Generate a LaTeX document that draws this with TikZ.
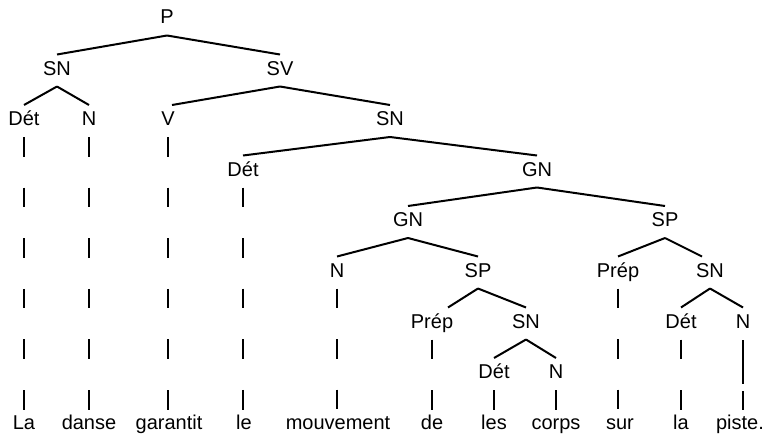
\documentclass[tikz,border=0pt]{standalone}
\usepackage{fontspec}
\setmainfont{Liberation Sans}
\usetikzlibrary{calc}
\tikzset{
  lab/.style={anchor=base, inner sep=0pt, font=\fontsize{20}{22}\selectfont},
  br/.style={line width=2pt},
  colbar/.style={line width=2pt, dash pattern=on 19.6pt off 31pt}
}
\newcommand\tbranch[3][0]{\draw[br] ($(#2.base)+(0,11.5)$) -- ($(#3.base)+(#1,-20.5)$);}
\newcommand\tcol[2]{\draw[colbar] ($(#1.base)+(0,11.5)$) -- ($(#1.base |- #2.base)+(0,-19)$);}
\begin{document}
\begin{tikzpicture}[x=1pt,y=-1pt]
\useasboundingbox (0,0) rectangle (773,436);
% nodes
\node[lab] (P) at (167,24) {P};
\node[lab] (SN1) at (57,75) {SN};
\node[lab] (SV) at (280,75) {SV};
\node[lab] (Det1) at (24,125.5) {Dét};
\node[lab] (N1) at (89,125.5) {N};
\node[lab] (V) at (168,125.5) {V};
\node[lab] (SN2) at (390,125.5) {SN};
\node[lab] (Det2) at (243,176) {Dét};
\node[lab] (GN1) at (537,176) {GN};
\node[lab] (GN2) at (408,226.5) {GN};
\node[lab] (SP1) at (665,226.5) {SP};
\node[lab] (N2) at (337,277) {N};
\node[lab] (SP2) at (478,277) {SP};
\node[lab] (Prep1) at (618,277) {Prép};
\node[lab] (SN3) at (710,277) {SN};
\node[lab] (Prep2) at (432,328) {Prép};
\node[lab] (SN4) at (526,328) {SN};
\node[lab] (Det3) at (681,328) {Dét};
\node[lab] (N3) at (743,328) {N};
\node[lab] (Det4) at (494,378.5) {Dét};
\node[lab] (N4) at (556,378.5) {N};
% words
\node[lab] (w1) at (24,429) {La};
\node[lab] (w2) at (89,429) {danse};
\node[lab] (w3) at (169,429) {garantit};
\node[lab] (w4) at (244,429) {le};
\node[lab] (w5) at (338,429) {mouvement};
\node[lab] (w6) at (432,429) {de};
\node[lab] (w7) at (494,429) {les};
\node[lab] (w8) at (556,429) {corps};
\node[lab] (w9) at (620,429) {sur};
\node[lab] (w10) at (681,429) {la};
\node[lab] (w11) at (740,429) {piste.};
% branches
\tbranch{P}{SN1}
\tbranch{P}{SV}
\tbranch{SN1}{Det1}
\tbranch{SN1}{N1}
\tbranch[4]{SV}{V}
\tbranch{SV}{SN2}
\tbranch{SN2}{Det2}
\tbranch{SN2}{GN1}
\tbranch{GN1}{GN2}
\tbranch{GN1}{SP1}
\tbranch{GN2}{N2}
\tbranch{GN2}{SP2}
\tbranch{SP1}{Prep1}
\tbranch[-8]{SP1}{SN3}
\tbranch[16]{SP2}{Prep2}
\tbranch{SP2}{SN4}
\tbranch{SN3}{Det3}
\tbranch{SN3}{N3}
\tbranch{SN4}{Det4}
\tbranch{SN4}{N4}
% columns down to the words
\tcol{Det1}{w1}
\tcol{N1}{w2}
\tcol{V}{w3}
\tcol{Det2}{w4}
\tcol{N2}{w5}
\tcol{Prep2}{w6}
\tcol{Det4}{w7}
\tcol{N4}{w8}
\tcol{Prep1}{w9}
\tcol{Det3}{w10}
\draw[br, dash pattern=on 44pt off 7pt on 20pt off 20pt] ($(N3.base)+(0,12)$) -- ($(N3.base |- w11.base)+(0,-19)$);
\end{tikzpicture}
\end{document}
